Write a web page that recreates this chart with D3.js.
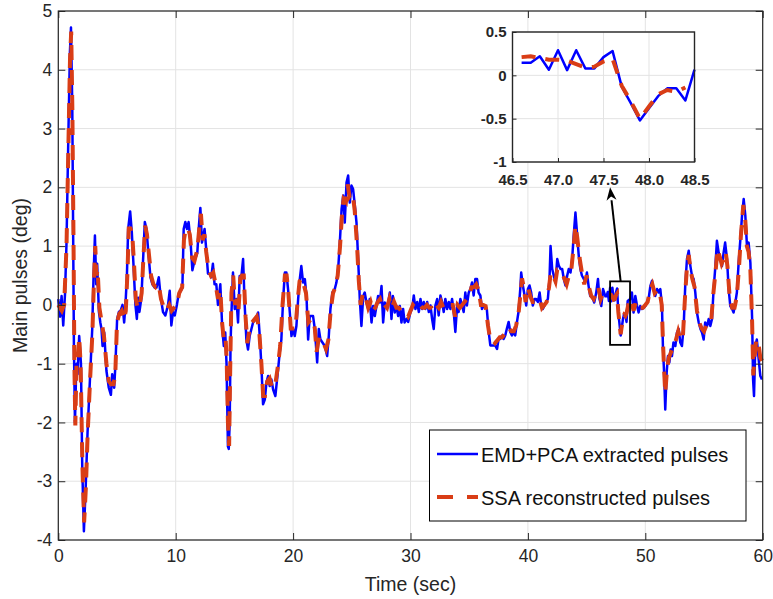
<!DOCTYPE html>
<html>
<head>
<meta charset="utf-8">
<script src="https://d3js.org/d3.v7.min.js"></script>
<style>
body{margin:0;background:#fff;}
text{font-family:"Liberation Sans",Arial,Helvetica,sans-serif;}
</style>
</head>
<body>
<div id="container"></div>
<script>
let w = 773;
let h = 599;
let plotLeft = 58.3;
let plotRight = 762.7;
let plotTop = 11;
let plotBottom = 540;

// tick values
let xTicks = [0,10,20,30,40,50,60];
let yTicks = [-4,-3,-2,-1,0,1,2,3,4,5];
let insetXTicks = [46.5,47.0,47.5,48.0,48.5];
let insetYTicks = [-1,-0.5,0,0.5];
let legendLabels = ["EMD+PCA extracted pulses","SSA reconstructed pulses"];

// zoom window (sec, deg) and arrow end points
let zoomBoxT = [47.0,48.7];
let zoomBoxV = [-0.68,0.4];
let arrowFrom = [47.9,0.4];
let arrowTo = [47.0,2.0];

// EMD+PCA extracted pulses [time, deg]
let emdPca = [
  [0,0.1],[0.15,-0.2],[0.28,0.15],[0.42,-0.35],[0.57,0.18],[0.7,1.06],[0.85,2.8],[0.99,4.3],[1.08,4.72],[1.19,3.4],
  [1.27,1.06],[1.33,-0.7],[1.42,-2.0],[1.5,-1.3],[1.56,-1.0],[1.64,-1.18],[1.78,-0.53],[1.93,-1.0],[2.04,-2.76],[2.18,-3.85],
  [2.32,-3.18],[2.49,-2.18],[2.69,-1.29],[2.89,-0.41],[3.0,0.47],[3.12,1.18],[3.23,0.35],[3.31,0.7],[3.46,-0.12],[3.58,-0.3],
  [3.68,-0.41],[3.77,-0.7],[3.91,-0.47],[4.1,-1.12],[4.3,-1.41],[4.48,-1.53],[4.59,-1.18],[4.76,-1.41],[4.87,-1.0],[5.01,-0.24],
  [5.16,-0.12],[5.33,-0.09],[5.47,0.0],[5.61,-0.3],[5.72,0.0],[5.84,0.47],[5.95,1.29],[6.12,1.59],[6.26,1.24],[6.4,0.7],
  [6.57,0.0],[6.69,-0.24],[6.8,0.12],[6.91,-0.12],[7.08,0.12],[7.22,0.76],[7.37,1.41],[7.51,1.29],[7.65,0.94],[7.85,0.47],
  [8.02,0.35],[8.22,0.29],[8.36,0.29],[8.56,0.47],[8.73,0.12],[8.92,-0.12],[9.12,-0.18],[9.35,0.0],[9.49,0.24],[9.63,-0.35],
  [9.77,-0.12],[9.92,-0.18],[10.1,0.0],[10.25,0.18],[10.42,0.24],[10.57,0.29],[10.68,1.29],[10.82,1.41],[10.96,1.29],[11.1,1.41],
  [11.27,1.06],[11.42,0.59],[11.61,0.76],[11.84,0.88],[11.98,1.35],[12.1,1.65],[12.24,1.06],[12.46,1.29],[12.6,0.94],[12.75,0.53],
  [12.89,0.53],[13.03,0.47],[13.17,0.7],[13.31,0.35],[13.46,0.35],[13.6,0.0],[13.8,0.35],[13.97,-0.41],[14.1,-0.7],[14.22,-0.47],
  [14.33,-1.0],[14.45,-2.41],[14.52,-2.45],[14.6,-2.0],[14.67,-0.7],[14.74,-0.19],[14.88,0.55],[15.03,-0.07],[15.17,0.1],[15.31,-0.3],
  [15.45,0.49],[15.6,0.49],[15.74,0.78],[15.88,-0.02],[16.02,-0.59],[16.16,-0.76],[16.3,-0.53],[16.45,-0.41],[16.59,-0.3],[16.82,-0.24],
  [17.02,-0.13],[17.16,-0.53],[17.3,-1.04],[17.44,-1.69],[17.59,-1.61],[17.73,-1.32],[17.87,-1.21],[18.01,-1.38],[18.15,-1.27],[18.3,-1.44],
  [18.49,-1.55],[18.72,-1.1],[18.86,-0.81],[19.0,-0.59],[19.15,0.1],[19.3,0.55],[19.43,0.55],[19.57,0.27],[19.72,-0.13],[19.86,-0.53],
  [20.0,-0.41],[20.14,-0.53],[20.28,-0.36],[20.43,0.1],[20.57,0.44],[20.7,0.66],[20.85,0.38],[21.0,0.44],[21.14,0.15],[21.28,-0.59],
  [21.42,-0.19],[21.56,-0.19],[21.7,-0.19],[21.85,-0.41],[22.05,-0.98],[22.19,-0.41],[22.33,-0.59],[22.5,-0.64],[22.7,-0.7],[22.9,-0.87],
  [23.04,-0.53],[23.18,-0.07],[23.35,0.21],[23.55,0.27],[23.69,0.38],[23.84,0.61],[23.98,1.06],[24.13,1.63],[24.27,1.86],[24.4,1.4],
  [24.55,2.08],[24.69,2.2],[24.83,1.74],[24.97,2.03],[25.11,1.97],[25.26,1.69],[25.4,1.4],[25.54,0.78],[25.68,0.1],[25.82,-0.36],
  [25.97,0.15],[26.1,0.21],[26.25,0.04],[26.4,-0.07],[26.53,0.1],[26.68,-0.3],[26.82,-0.02],[26.96,-0.19],[27.1,-0.02],[27.24,0.15],
  [27.39,0.04],[27.53,0.32],[27.67,-0.3],[27.81,0.04],[27.95,-0.02],[28.1,0.04],[28.24,0.21],[28.38,-0.24],[28.5,0.15],[28.66,-0.13],
  [28.8,-0.02],[28.95,-0.19],[29.09,-0.02],[29.23,-0.3],[29.37,-0.07],[29.5,-0.3],[29.66,-0.24],[29.8,-0.29],[30.0,-0.12],[30.14,-0.07],
  [30.28,0.16],[30.42,-0.07],[30.57,0.05],[30.71,-0.12],[30.85,0.1],[30.99,-0.07],[31.13,0.05],[31.27,-0.07],[31.42,0.05],[31.56,-0.12],
  [31.7,-0.01],[31.84,-0.24],[31.98,-0.41],[32.12,-0.01],[32.27,0.1],[32.4,-0.18],[32.55,0.16],[32.69,0.05],[32.83,-0.12],[32.97,0.1],
  [33.12,-0.07],[33.26,0.05],[33.4,-0.07],[33.54,0.1],[33.68,-0.12],[33.82,-0.46],[33.97,-0.01],[34.1,-0.12],[34.25,0.1],[34.39,-0.01],
  [34.53,-0.12],[34.67,0.21],[34.8,-0.01],[34.96,0.21],[35.1,0.27],[35.24,0.38],[35.38,0.16],[35.52,0.44],[35.67,0.44],[35.8,0.21],
  [35.95,0.16],[36.09,-0.07],[36.23,-0.01],[36.37,-0.01],[36.5,-0.07],[36.66,-0.46],[36.8,-0.69],[36.94,-0.69],[37.08,-0.69],[37.22,-0.69],
  [37.37,-0.75],[37.5,-0.58],[37.65,-0.58],[37.8,-0.52],[37.93,-0.58],[38.07,-0.52],[38.2,-0.41],[38.36,-0.29],[38.5,-0.46],[38.64,-0.52],
  [38.78,-0.46],[38.92,-0.52],[39.07,-0.29],[39.2,-0.12],[39.35,0.27],[39.43,0.55],[39.57,0.33],[39.72,0.16],[39.86,-0.01],[40.0,0.27],
  [40.14,0.33],[40.28,0.21],[40.42,-0.01],[40.57,0.1],[40.7,0.1],[40.85,0.05],[41.0,0.21],[41.13,-0.01],[41.27,-0.07],[41.42,-0.01],
  [41.56,0.05],[41.7,0.1],[41.84,0.44],[41.93,1.0],[42.07,0.61],[42.2,0.5],[42.35,0.38],[42.5,0.78],[42.63,0.67],[42.78,0.61],
  [42.92,0.61],[43.06,0.44],[43.2,0.33],[43.35,0.5],[43.48,0.61],[43.63,0.55],[43.77,0.78],[43.9,1.18],[44.05,1.57],[44.2,1.18],
  [44.33,0.84],[44.47,0.61],[44.6,0.5],[44.76,0.44],[44.9,0.4],[45.03,0.55],[45.17,0.32],[45.31,0.15],[45.45,0.15],[45.65,0.04],
  [45.82,0.21],[45.97,0.44],[46.1,0.1],[46.25,-0.02],[46.4,0.27],
  [46.6,0.145],[46.7,0.145],[46.8,0.22],[46.9,0.065],[47.0,0.29],[47.1,0.06],[47.2,0.29],[47.3,0.08],[47.4,0.08],[47.5,0.21],
  [47.6,0.28],[47.7,-0.13],[47.8,-0.32],[47.9,-0.52],[48.0,-0.38],[48.1,-0.24],[48.2,-0.15],[48.3,-0.15],[48.4,-0.29],[48.5,0.065],
  [48.72,0.1],[48.86,0.21],[49.0,-0.13],[49.15,0.15],[49.3,-0.02],[49.43,-0.13],[49.57,-0.02],[49.72,-0.07],[49.86,-0.05],[50.0,-0.02],
  [50.14,0.04],[50.28,0.1],[50.43,0.32],[50.57,0.41],[50.7,0.27],[50.85,0.15],[51.0,0.27],[51.14,0.21],[51.28,0.27],[51.42,-0.02],
  [51.5,-0.7],[51.6,-1.15],[51.7,-1.78],[51.82,-1.15],[51.93,-0.87],[52.05,-0.98],[52.16,-0.76],[52.27,-0.87],[52.4,-0.64],[52.56,-0.7],
  [52.7,-0.47],[52.84,-0.41],[52.98,-0.64],[53.12,-0.7],[53.27,-0.36],[53.4,0.32],[53.55,0.78],[53.7,0.92],[53.84,0.66],[53.98,0.49],
  [54.12,0.44],[54.26,0.21],[54.4,-0.13],[54.55,-0.3],[54.7,-0.41],[54.83,-0.47],[54.97,-0.59],[55.1,-0.3],[55.26,-0.36],[55.4,-0.24],
  [55.54,-0.36],[55.68,-0.24],[55.82,0.27],[55.97,0.66],[56.1,1.09],[56.25,0.89],[56.4,0.78],[56.53,0.66],[56.67,0.89],[56.8,1.06],
  [56.96,0.78],[57.1,0.27],[57.24,-0.02],[57.4,-0.07],[57.52,-0.13],[57.67,0.04],[57.8,0.21],[57.95,0.72],[58.1,1.12],[58.24,1.52],
  [58.38,1.8],[58.52,1.52],[58.66,1.0],[58.8,1.06],[58.95,0.72],[59.1,-0.24],[59.18,-1.27],[59.26,-1.55],[59.37,-0.7],[59.5,-0.59],
  [59.66,-0.93],[59.8,-1.21],[59.94,-1.27]
];

// SSA reconstructed pulses [time, deg]
let ssa = [
  [0,0.0],[0.3,-0.1],[0.5,0.0],[0.7,1.0],[0.85,2.6],[1.0,4.2],[1.1,4.65],[1.2,3.3],[1.3,1.0],[1.37,-1.0],
  [1.45,-2.05],[1.55,-1.0],[1.65,-1.0],[1.78,-0.55],[1.9,-1.0],[2.05,-2.7],[2.2,-3.7],[2.35,-3.1],[2.5,-2.2],[2.7,-1.3],
  [2.9,-0.5],[3.05,0.5],[3.15,1.0],[3.25,0.5],[3.35,0.6],[3.5,-0.05],[3.7,-0.3],[3.9,-0.55],[4.1,-1.0],[4.3,-1.3],
  [4.5,-1.35],[4.7,-1.35],[4.85,-1.2],[5.0,-0.3],[5.2,-0.15],[5.4,-0.1],[5.6,-0.25],[5.75,-0.1],[5.9,0.6],[6.0,1.3],
  [6.15,1.3],[6.3,1.2],[6.45,0.7],[6.6,0.1],[6.75,-0.05],[6.9,-0.05],[7.1,0.2],[7.25,0.8],[7.4,1.35],[7.55,1.2],
  [7.7,0.9],[7.9,0.5],[8.1,0.35],[8.3,0.3],[8.55,0.35],[8.75,0.1],[9.0,-0.05],[9.2,-0.1],[9.45,0.0],[9.65,-0.1],
  [9.85,-0.05],[10.1,0.0],[10.3,0.2],[10.55,0.3],[10.7,1.1],[10.85,1.3],[11.05,1.3],[11.2,1.2],[11.4,0.8],[11.6,0.75],
  [11.85,0.95],[12.05,1.4],[12.15,1.55],[12.3,1.1],[12.45,1.2],[12.6,0.9],[12.8,0.6],[13.0,0.5],[13.2,0.55],[13.4,0.35],
  [13.6,0.1],[13.8,0.25],[13.95,-0.3],[14.1,-0.6],[14.25,-0.55],[14.35,-1.0],[14.45,-2.0],[14.55,-2.4],[14.65,-1.0],[14.75,0.2],
  [14.9,0.5],[15.05,0.0],[15.2,0.1],[15.35,-0.1],[15.5,0.45],[15.65,0.5],[15.8,0.5],[15.95,-0.2],[16.1,-0.65],[16.3,-0.4],
  [16.5,-0.3],[16.7,-0.25],[16.9,-0.2],[17.1,-0.4],[17.3,-1.0],[17.45,-1.55],[17.6,-1.55],[17.8,-1.3],[18.0,-1.25],[18.2,-1.4],
  [18.45,-1.4],[18.7,-1.05],[18.9,-0.7],[19.1,0.0],[19.3,0.5],[19.45,0.5],[19.6,0.2],[19.8,-0.4],[20.0,-0.4],[20.2,-0.4],
  [20.4,0.1],[20.55,0.4],[20.75,0.45],[20.9,0.35],[21.1,0.2],[21.3,-0.3],[21.5,-0.25],[21.7,-0.25],[21.85,-0.4],[22.0,-0.8],
  [22.2,-0.55],[22.4,-0.6],[22.6,-0.65],[22.8,-0.75],[23.0,-0.6],[23.2,-0.1],[23.4,0.2],[23.6,0.3],[23.8,0.5],[24.0,1.0],
  [24.15,1.5],[24.3,1.8],[24.5,1.75],[24.65,2.05],[24.8,1.85],[24.95,1.9],[25.1,1.85],[25.25,1.6],[25.45,1.0],[25.6,0.4],
  [25.75,0.0],[25.95,0.2],[26.15,0.15],[26.4,-0.05],[26.6,0.05],[26.8,-0.1],[27.0,-0.05],[27.2,0.05],[27.4,0.1],[27.6,-0.05],
  [27.8,0.0],[28.0,-0.05],[28.2,0.1],[28.4,-0.05],[28.6,0.05],[28.8,-0.05],[29.0,-0.05],[29.2,-0.1],[29.4,-0.1],[29.6,-0.15],
  [29.8,-0.2],[30.0,-0.1],[30.2,0.0],[30.4,-0.05],[30.6,0.0],[30.8,0.0],[31.0,-0.05],[31.2,-0.05],[31.4,0.0],[31.6,-0.05],
  [31.8,-0.05],[32.0,-0.1],[32.2,0.0],[32.4,-0.05],[32.6,0.05],[32.8,-0.05],[33.0,0.0],[33.2,-0.02],[33.4,0.0],[33.6,0.0],
  [33.8,-0.2],[34.0,0.0],[34.2,-0.05],[34.4,0.0],[34.6,0.05],[34.8,0.1],[35.0,0.15],[35.2,0.3],[35.4,0.3],[35.6,0.35],
  [35.8,0.25],[36.0,0.0],[36.2,0.0],[36.4,-0.02],[36.6,-0.35],[36.8,-0.6],[37.0,-0.6],[37.2,-0.65],[37.4,-0.6],[37.6,-0.55],
  [37.8,-0.55],[38.0,-0.5],[38.2,-0.4],[38.4,-0.4],[38.6,-0.45],[38.8,-0.45],[39.0,-0.35],[39.2,-0.15],[39.35,0.15],[39.5,0.45],
  [39.65,0.3],[39.8,0.05],[40.0,0.3],[40.2,0.15],[40.4,0.05],[40.6,0.05],[40.8,0.1],[41.0,0.1],[41.2,-0.05],[41.4,0.0],
  [41.6,0.05],[41.8,0.3],[41.95,0.55],[42.15,0.5],[42.35,0.4],[42.5,0.6],[42.7,0.6],[42.9,0.55],[43.1,0.45],[43.3,0.35],
  [43.5,0.5],[43.7,0.6],[43.9,1.0],[44.05,1.35],[44.2,1.15],[44.4,0.8],[44.6,0.55],[44.8,0.35],[45.0,0.5],[45.2,0.3],
  [45.4,0.15],[45.6,0.1],[45.8,0.2],[46.0,0.3],[46.2,0.1],[46.4,0.2],
  [46.6,0.21],[46.7,0.22],[46.8,0.2],[46.9,0.18],[47.0,0.18],[47.1,0.17],[47.2,0.13],[47.3,0.09],[47.4,0.1],[47.5,0.16],
  [47.6,0.19],[47.7,-0.12],[47.8,-0.3],[47.9,-0.5],[48.0,-0.36],[48.1,-0.22],[48.2,-0.17],[48.3,-0.19],[48.4,-0.14],
  [48.6,0.05],[48.8,0.1],[49.0,-0.1],[49.2,0.05],[49.4,-0.05],[49.6,-0.05],[49.8,-0.05],[50.0,0.0],[50.2,0.05],[50.4,0.25],
  [50.6,0.35],[50.8,0.2],[51.0,0.25],[51.2,0.25],[51.4,0.0],[51.5,-0.6],[51.6,-1.1],[51.7,-1.5],[51.85,-1.1],[52.0,-0.9],
  [52.2,-0.8],[52.4,-0.7],[52.6,-0.6],[52.8,-0.45],[53.0,-0.6],[53.2,-0.55],[53.4,0.2],[53.55,0.65],[53.7,0.85],[53.85,0.6],
  [54.0,0.45],[54.2,0.3],[54.4,-0.1],[54.6,-0.3],[54.8,-0.4],[55.0,-0.45],[55.2,-0.35],[55.4,-0.35],[55.6,-0.3],[55.8,0.2],
  [56.0,0.6],[56.15,0.95],[56.3,0.85],[56.5,0.7],[56.7,0.8],[56.85,0.9],[57.0,0.65],[57.2,0.1],[57.4,-0.05],[57.6,-0.05],
  [57.8,0.15],[58.0,0.7],[58.15,1.2],[58.35,1.7],[58.5,1.5],[58.65,1.0],[58.8,0.9],[58.95,0.6],[59.1,-0.3],[59.2,-1.2],
  [59.3,-0.9],[59.45,-0.6],[59.6,-0.6],[59.8,-0.9],[59.95,-0.95]
];

let blue = "#0000ff";
let red = "#d93d16";
let axisColor = "#262626";
let gridColor = "#e3e3e3";

let viz = d3.select("#container")
  .append("svg")
    .attr("width", w)
    .attr("height", h)
    .style("background", "#fff")
;

let xScale = d3.scaleLinear().domain([0,60]).range([plotLeft,plotRight]);
let yScale = d3.scaleLinear().domain([-4,5]).range([plotBottom,plotTop]);

// grid
let gridGroup = viz.append("g").attr("class","grid");
gridGroup.selectAll(".vgrid").data(xTicks).enter().append("line")
  .attr("x1",d=>xScale(d)).attr("x2",d=>xScale(d))
  .attr("y1",plotTop).attr("y2",plotBottom)
  .attr("stroke",gridColor).attr("stroke-width",1);
gridGroup.selectAll(".hgrid").data(yTicks).enter().append("line")
  .attr("x1",plotLeft).attr("x2",plotRight)
  .attr("y1",d=>yScale(d)).attr("y2",d=>yScale(d))
  .attr("stroke",gridColor).attr("stroke-width",1);

// lines
let line = d3.line()
  .x(function(d){ return xScale(d[0]); })
  .y(function(d){ return yScale(d[1]); });

viz.append("path")
  .datum(emdPca)
  .attr("d",line)
  .attr("fill","none")
  .attr("stroke",blue)
  .attr("stroke-width",2.5)
  .attr("stroke-linejoin","round");

viz.append("path")
  .datum(ssa)
  .attr("d",line)
  .attr("fill","none")
  .attr("stroke",red)
  .attr("stroke-width",4)
  .attr("stroke-dasharray","15,10");

// axes
function styleAxis(g, size){
  g.select(".domain").remove();
  g.selectAll(".tick line").attr("stroke",axisColor).attr("stroke-width",1);
  g.selectAll("text")
    .attr("fill",axisColor)
    .attr("font-size",size)
    .attr("font-family","'Liberation Sans',Arial,Helvetica,sans-serif");
}

let xAxis = d3.axisBottom(xScale).tickValues(xTicks).tickSize(-7).tickSizeOuter(0).tickPadding(10)
  .tickFormat(function(d){ return String(d); });
let xAxisGroup = viz.append("g").attr("class","xaxis").attr("transform","translate(0,"+plotBottom+")");
xAxisGroup.call(xAxis);
styleAxis(xAxisGroup, 17.5);

let yAxis = d3.axisLeft(yScale).tickValues(yTicks).tickSize(-7).tickSizeOuter(0).tickPadding(6)
  .tickFormat(function(d){ return String(d); });
let yAxisGroup = viz.append("g").attr("class","yaxis").attr("transform","translate("+plotLeft+",0)");
yAxisGroup.call(yAxis);
styleAxis(yAxisGroup, 17.5);

let xTopGroup = viz.append("g").attr("transform","translate(0,"+plotTop+")")
  .call(d3.axisTop(xScale).tickValues(xTicks).tickSize(-7).tickSizeOuter(0).tickFormat(""));
styleAxis(xTopGroup, 10);
let yRightGroup = viz.append("g").attr("transform","translate("+plotRight+",0)")
  .call(d3.axisRight(yScale).tickValues(yTicks).tickSize(-7).tickSizeOuter(0).tickFormat(""));
styleAxis(yRightGroup, 10);

viz.append("rect")
  .attr("x",plotLeft).attr("y",plotTop)
  .attr("width",plotRight-plotLeft).attr("height",plotBottom-plotTop)
  .attr("fill","none").attr("stroke",axisColor).attr("stroke-width",1.2);

// axis labels
viz.append("text")
  .text("Time (sec)")
  .attr("x",(plotLeft+plotRight)/2).attr("y",591)
  .attr("text-anchor","middle")
  .attr("font-size",19.5)
  .attr("fill",axisColor);

viz.append("text")
  .text("Main pulses (deg)")
  .attr("transform","translate(27,"+((plotTop+plotBottom)/2)+") rotate(-90)")
  .attr("text-anchor","middle")
  .attr("font-size",19.5)
  .attr("fill",axisColor);

// zoom box + arrow
viz.append("rect")
  .attr("x",xScale(zoomBoxT[0])).attr("y",yScale(zoomBoxV[1]))
  .attr("width",xScale(zoomBoxT[1])-xScale(zoomBoxT[0]))
  .attr("height",yScale(zoomBoxV[0])-yScale(zoomBoxV[1]))
  .attr("fill","none").attr("stroke","#000").attr("stroke-width",1.8);

let ax1 = xScale(arrowFrom[0]), ay1 = yScale(arrowFrom[1]);
let ax2 = xScale(arrowTo[0]), ay2 = yScale(arrowTo[1]);
let ang = Math.atan2(ay2-ay1, ax2-ax1);
let headLen = 13, headW = 5;
let bx = ax2 - headLen*Math.cos(ang), by = ay2 - headLen*Math.sin(ang);
viz.append("line")
  .attr("x1",ax1).attr("y1",ay1).attr("x2",bx).attr("y2",by)
  .attr("stroke","#000").attr("stroke-width",2);
viz.append("path")
  .attr("d","M"+ax2+","+ay2+
    "L"+(bx+headW*Math.sin(ang))+","+(by-headW*Math.cos(ang))+
    "L"+(ax2-headLen*0.7*Math.cos(ang))+","+(ay2-headLen*0.7*Math.sin(ang))+
    "L"+(bx-headW*Math.sin(ang))+","+(by+headW*Math.cos(ang))+"Z")
  .attr("fill","#000");

// legend
let legend = viz.append("g").attr("class","legend");
legend.append("rect")
  .attr("x",429.5).attr("y",430).attr("width",316.5).attr("height",91)
  .attr("fill","#fff").attr("stroke","#000").attr("stroke-width",1);
let legendRows = legend.selectAll(".row").data(legendLabels).enter().append("g")
  .attr("transform",function(d,i){ return "translate(437,"+(454+i*43)+")"; });
legendRows.append("line")
  .attr("x1",0).attr("x2",41).attr("y1",0).attr("y2",0)
  .attr("stroke",function(d,i){ return i==0 ? blue : red; })
  .attr("stroke-width",function(d,i){ return i==0 ? 2.5 : 4; })
  .attr("stroke-dasharray",function(d,i){ return i==0 ? null : "16,14"; });
legendRows.append("text")
  .text(function(d){ return d; })
  .attr("x",44).attr("y",7.5)
  .attr("font-size",20)
  .attr("fill","#111");

// inset
let ix = d3.scaleLinear().domain([46.5,48.5]).range([512.5,694.5]);
let iy = d3.scaleLinear().domain([-1,0.5]).range([162,32]);
let inset = viz.append("g").attr("class","inset");
inset.append("rect")
  .attr("x",ix.range()[0]).attr("y",iy.range()[1])
  .attr("width",ix.range()[1]-ix.range()[0]).attr("height",iy.range()[0]-iy.range()[1])
  .attr("fill","#fff");
inset.selectAll(".ivg").data(insetXTicks).enter().append("line")
  .attr("x1",d=>ix(d)).attr("x2",d=>ix(d)).attr("y1",iy(0.5)).attr("y2",iy(-1))
  .attr("stroke",gridColor);
inset.selectAll(".ihg").data(insetYTicks).enter().append("line")
  .attr("x1",ix(46.5)).attr("x2",ix(48.5)).attr("y1",d=>iy(d)).attr("y2",d=>iy(d))
  .attr("stroke",gridColor);

let iline = d3.line()
  .x(function(d){ return ix(d[0]); })
  .y(function(d){ return iy(d[1]); });
function inWindow(d){ return d[0]>=46.5 && d[0]<=48.5; }

inset.append("path")
  .datum(emdPca.filter(inWindow))
  .attr("d",iline)
  .attr("fill","none").attr("stroke",blue).attr("stroke-width",2.5)
  .attr("stroke-linejoin","round");
inset.append("path")
  .datum(ssa.filter(inWindow))
  .attr("d",iline)
  .attr("fill","none").attr("stroke",red).attr("stroke-width",4)
  .attr("stroke-dasharray","14,10");

let ixAxisGroup = inset.append("g").attr("transform","translate(0,"+iy(-1)+")")
  .call(d3.axisBottom(ix).tickValues(insetXTicks).tickSize(-4).tickSizeOuter(0).tickPadding(12)
    .tickFormat(d3.format(".1f")));
styleAxis(ixAxisGroup, 15);
ixAxisGroup.selectAll("text").attr("font-weight","bold");

let iyAxisGroup = inset.append("g").attr("transform","translate("+ix(46.5)+",0)")
  .call(d3.axisLeft(iy).tickValues(insetYTicks).tickSize(-4).tickSizeOuter(0).tickPadding(6)
    .tickFormat(function(d){ return String(d); }));
styleAxis(iyAxisGroup, 15);
iyAxisGroup.selectAll("text").attr("font-weight","bold");

inset.append("rect")
  .attr("x",ix.range()[0]).attr("y",iy.range()[1])
  .attr("width",ix.range()[1]-ix.range()[0]).attr("height",iy.range()[0]-iy.range()[1])
  .attr("fill","none").attr("stroke",axisColor).attr("stroke-width",1.4);
</script>
</body>
</html>
